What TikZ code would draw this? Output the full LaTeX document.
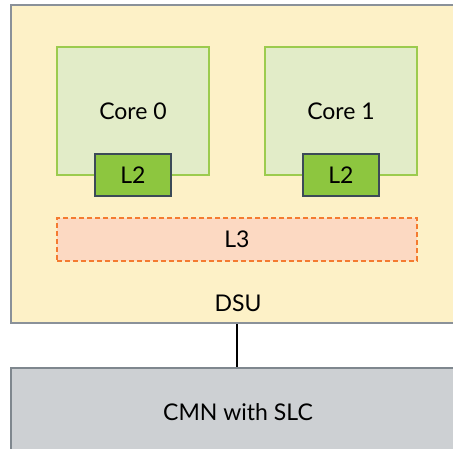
\documentclass[tikz,border=0pt]{standalone}
\usepackage{fontspec}
\setmainfont{Lato}
\usepackage{tikz}
\usetikzlibrary{calc,positioning}

\definecolor{dsufill}{HTML}{FDF1C7}
\definecolor{dsuline}{HTML}{8A9199}
\definecolor{corefill}{HTML}{E2ECC8}
\definecolor{coreline}{HTML}{9CCB4E}
\definecolor{ltwofill}{HTML}{8DC63F}
\definecolor{ltwoline}{HTML}{3C4A57}
\definecolor{lthreefill}{HTML}{FCD9C2}
\definecolor{lthreeline}{HTML}{F47B30}
\definecolor{cmnfill}{HTML}{CDD0D3}
\definecolor{cmnline}{HTML}{7F878E}

\tikzset{
    lbl/.style={font=\fontsize{23}{27}\selectfont},
    dsubox/.style={draw=dsuline, fill=dsufill, line width=2pt},
    corebox/.style={lbl, draw=coreline, fill=corefill, line width=2pt,
        minimum width=152pt, minimum height=128pt},
    ltwobox/.style={lbl, draw=ltwoline, fill=ltwofill, line width=2pt,
        minimum width=76pt, minimum height=42pt},
    lthreebox/.style={lbl, draw=lthreeline, fill=lthreefill, line width=1.5pt,
        dashed, dash pattern=on 5pt off 3pt, minimum width=360pt, minimum height=43pt},
    cmnbox/.style={lbl, draw=cmnline, fill=cmnfill, line width=2pt},
    link/.style={line width=2pt, black}
}

\begin{document}
\begin{tikzpicture}[x=1pt,y=-1pt]
        \useasboundingbox (0,0) rectangle (453,448);
        \clip (0,0) rectangle (453,448);
        % DSU
        \node[dsubox, minimum width=454pt, minimum height=318pt] (dsu) at (238,164) {};
        \node[lbl, above=9pt] (dsulbl) at (dsu.south) {DSU};
        % cores
        \node[corebox] (core0) at (133,111) {Core 0};
        \node[corebox] (core1) at (341,111) {Core 1};
        \node[ltwobox] (ltwo0) at (133,175) {L2};
        \node[ltwobox] (ltwo1) at (341,175) {L2};
        \node[lthreebox] (lthree) at (237,239.5) {L3};
        % interconnect
        \node[cmnbox, minimum width=454pt, minimum height=88pt] (cmn) at (238,412) {CMN with SLC};
        \draw[link] (dsu.south -| lthree) -- (cmn.north -| lthree);
    \end{tikzpicture}
\end{document}
